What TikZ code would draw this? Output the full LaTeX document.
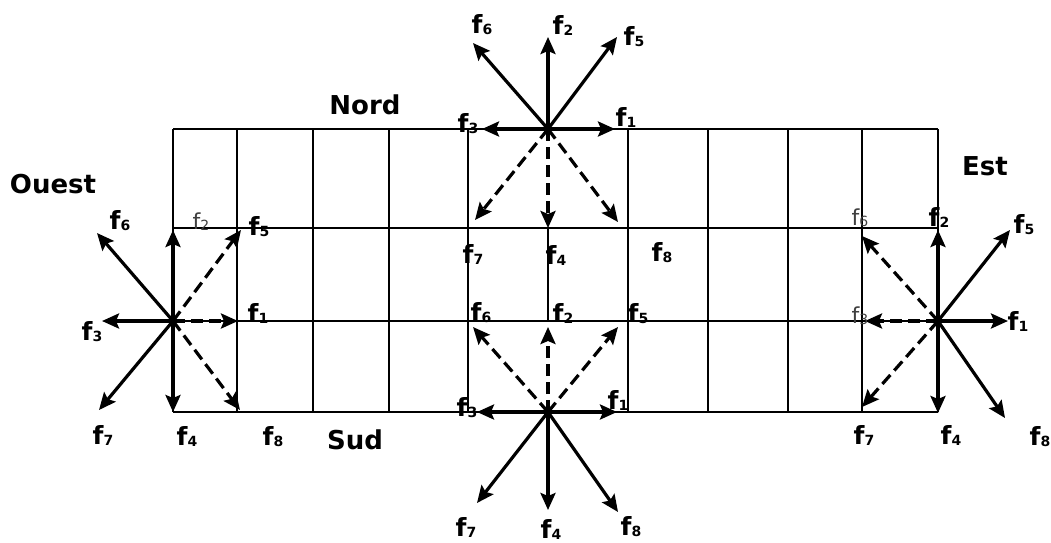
\documentclass[tikz,border=0pt]{standalone}
\usepackage{fontspec}
\setmainfont{DejaVu Sans}
\usetikzlibrary{arrows.meta}
\newcommand\flab[1]{f\raisebox{-1pt}{\fontsize{14}{14}\selectfont #1}}
\begin{document}
\begin{tikzpicture}[x=1pt,y=-1pt,
  gridline/.style={line width=2pt},
  vec/.style={line width=3.2pt,-{Stealth[length=17pt,width=15pt,inset=3pt]}},
  dvec/.style={vec,dash pattern=on 12pt off 6pt},
  lab/.style={font=\bfseries\fontsize{25}{25}\selectfont,inner sep=0pt},
  llab/.style={font=\fontsize{22}{22}\selectfont,inner sep=0pt,text=black!75},
  place/.style={font=\bfseries\fontsize{26}{26}\selectfont,inner sep=0pt}]
\useasboundingbox (0,0) rectangle (1051,542);
\fill[white] (0,0) rectangle (1051,542);
% grid
\foreach \y in {129,228,321,412} \draw[gridline] (173,\y) -- (938,\y);
\foreach \x in {173,237,313,389,468,628,708,788,862,938} \draw[gridline] (\x,129) -- (\x,412);
\draw[gridline] (548,228) -- (548,321);
% lattice nodes
\coordinate (N) at (548,129);
\coordinate (S) at (548,412);
\coordinate (W) at (173,321);
\coordinate (E) at (938,321);
% tips north
\coordinate (N6) at (473,43); \coordinate (N2) at (548,37); \coordinate (N5) at (617,37);
\coordinate (N3) at (482,129); \coordinate (N1) at (615,129);
\coordinate (N7) at (475,220); \coordinate (N4) at (548,228); \coordinate (N8) at (618,222);
% tips south
\coordinate (S3) at (477,412); \coordinate (S1) at (617,412);
\coordinate (S7) at (477,503); \coordinate (S4) at (548,510); \coordinate (S8) at (618,512);
\coordinate (S6) at (473,327); \coordinate (S2) at (548,327); \coordinate (S5) at (618,327);
% tips west
\coordinate (W2) at (173,230); \coordinate (W4) at (173,412); \coordinate (W3) at (102,321);
\coordinate (W6) at (97,233); \coordinate (W7) at (99,410);
\coordinate (W1) at (238,321); \coordinate (W5) at (241,230); \coordinate (W8) at (240,410);
% tips east
\coordinate (E1) at (1008,321); \coordinate (E5) at (1010,230); \coordinate (E8) at (1005,418);
\coordinate (E2) at (938,230); \coordinate (E4) at (938,413);
\coordinate (E3) at (865,321); \coordinate (E6) at (862,236); \coordinate (E7) at (862,407);
% arrows
\foreach \t in {6,2,5,3,1} \draw[vec] (N) -- (N\t);
\foreach \t in {7,4,8} \draw[dvec] (N) -- (N\t);
\foreach \t in {3,1,7,4,8} \draw[vec] (S) -- (S\t);
\foreach \t in {6,2,5} \draw[dvec] (S) -- (S\t);
\foreach \t in {2,4,3,6,7} \draw[vec] (W) -- (W\t);
\foreach \t in {1,5,8} \draw[dvec] (W) -- (W\t);
\foreach \t in {1,5,8,2,4} \draw[vec] (E) -- (E\t);
\foreach \t in {3,6,7} \draw[dvec] (E) -- (E\t);
% place names
\node[place] (ouest) at (53,184) {Ouest};
\node[place] (nord) at (365,105) {Nord};
\node[place] (sud) at (355,440) {Sud};
\node[place] (est) at (985,166) {Est};
% north labels
\node[lab] (lN6) at (482,25) {\flab{6}};
\node[lab] (lN2) at (563,25) {\flab{2}};
\node[lab] (lN5) at (634,37) {\flab{5}};
\node[lab] (lN3) at (468,124) {\flab{3}};
\node[lab] (lN1) at (626,117) {\flab{1}};
\node[lab] (lN7) at (473,254) {\flab{7}};
\node[lab] (lN4) at (556,255) {\flab{4}};
\node[lab] (lN8) at (662,253) {\flab{8}};
% south labels
\node[lab] (lS6) at (481,313) {\flab{6}};
\node[lab] (lS2) at (563,313) {\flab{2}};
\node[lab] (lS5) at (638,314) {\flab{5}};
\node[lab] (lS3) at (467,408) {\flab{3}};
\node[lab] (lS1) at (618,400) {\flab{1}};
\node[lab] (lS7) at (466,527) {\flab{7}};
\node[lab] (lS4) at (551,529) {\flab{4}};
\node[lab] (lS8) at (631,527) {\flab{8}};
% west labels
\node[lab] (lW6) at (120,221) {\flab{6}};
\node[lab] (lW3) at (92,332) {\flab{3}};
\node[lab] (lW7) at (103,435) {\flab{7}};
\node[lab] (lW4) at (187,436) {\flab{4}};
\node[lab] (lW8) at (273,437) {\flab{8}};
\node[llab] (lW2) at (201,222) {\flab{2}};
\node[lab] (lW5) at (259,227) {\flab{5}};
\node[lab] (lW1) at (258,313) {\flab{1}};
% east labels
\node[llab] (lE6) at (860,218) {\flab{6}};
\node[lab] (lE2) at (939,217) {\flab{2}};
\node[lab] (lE5) at (1024,225) {\flab{5}};
\node[llab] (lE3) at (860,316) {\flab{3}};
\node[lab] (lE1) at (1018,321) {\flab{1}};
\node[lab] (lE7) at (864,435) {\flab{7}};
\node[lab] (lE4) at (951,435) {\flab{4}};
\node[lab] (lE8) at (1040,437) {\flab{8}};
\end{tikzpicture}
\end{document}
